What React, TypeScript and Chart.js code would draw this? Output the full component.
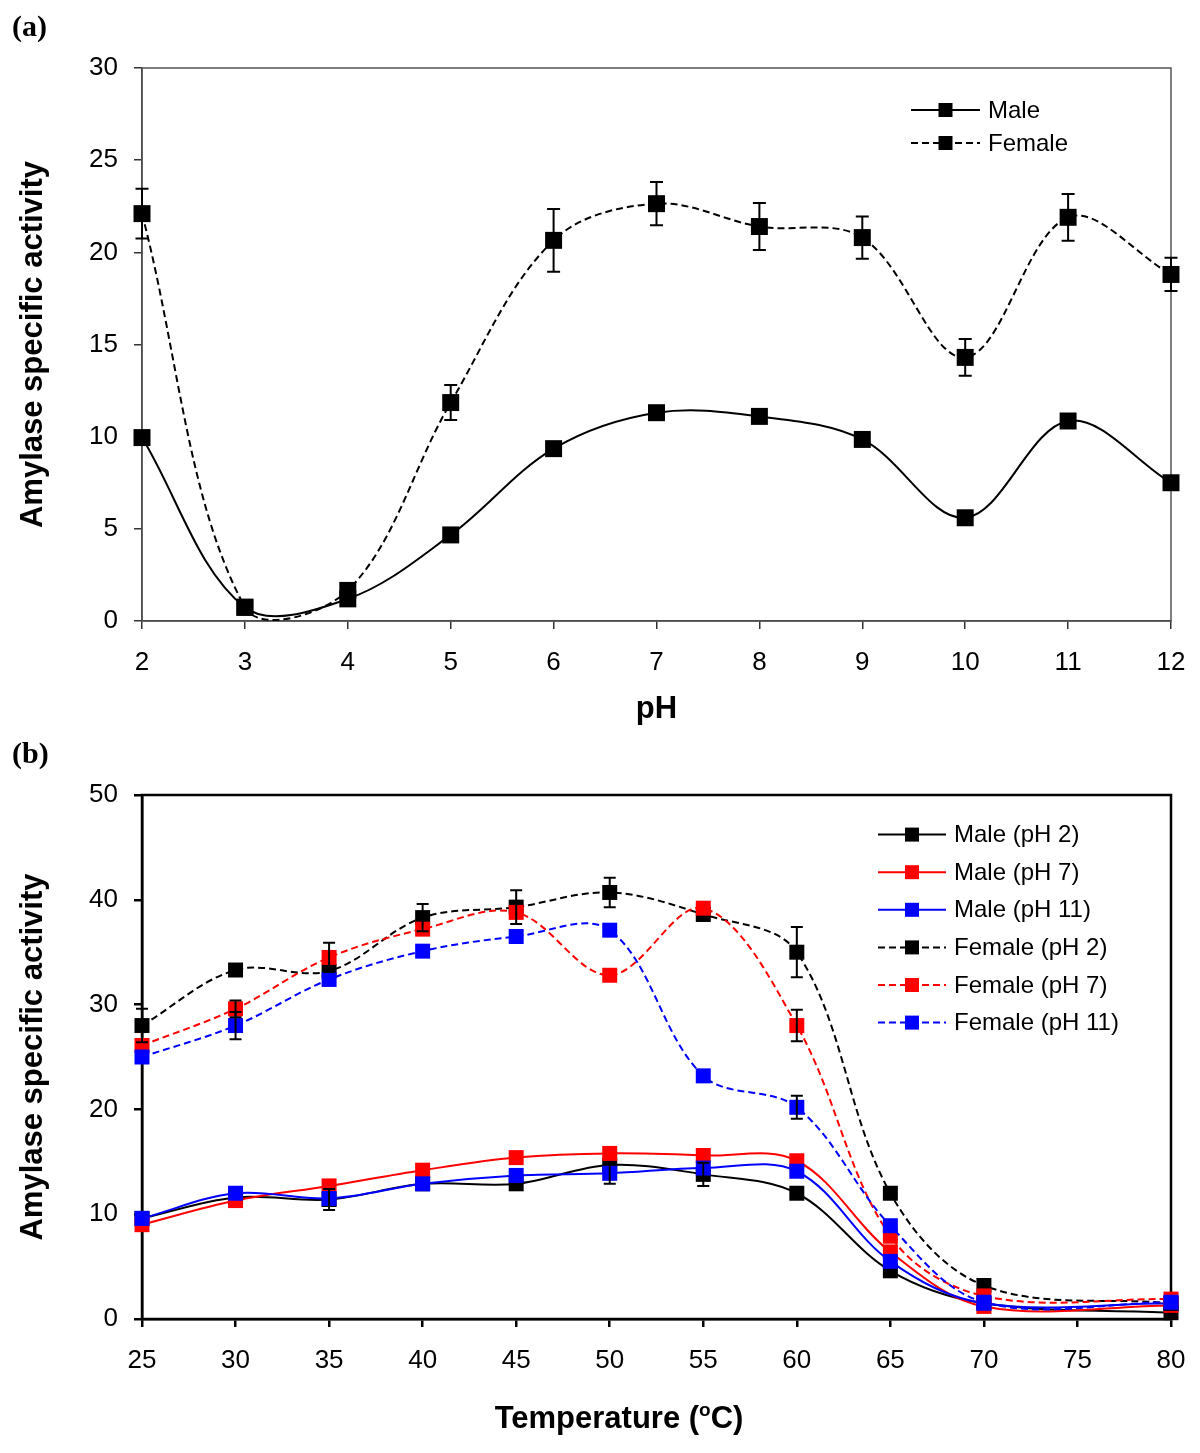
import React, { useEffect, useRef } from 'react';
import { Chart, registerables } from 'chart.js';

Chart.register(...registerables);

const FONT = "'Liberation Sans', Arial, sans-serif";
const SERIF = "'Liberation Serif', 'Times New Roman', serif";

// ---------- Panel (a): pH ----------
const phValues = [2, 3, 4, 5, 6, 7, 8, 9, 10, 11, 12];
const phMale = [9.95, 0.74, 1.2, 4.67, 9.35, 11.3, 11.1, 9.85, 5.6, 10.85, 7.5];
const phMaleErr = [0, 0, 0, 0, 0, 0, 0, 0, 0, 0, 0.3];
const phFemale = [22.1, 0.75, 1.66, 11.85, 20.65, 22.64, 21.4, 20.8, 14.3, 21.9, 18.8];
const phFemaleErr = [1.35, 0, 0, 0.95, 1.7, 1.17, 1.27, 1.15, 1.0, 1.27, 0.9];
const phTicks = { min: 2, max: 12, step: 1 };
const actTicksA = { min: 0, max: 30, step: 5 };

// ---------- Panel (b): Temperature ----------
const tempValues = [25, 30, 35, 40, 45, 50, 55, 60, 65, 70, 80];
const malePH2 = [9.6, 11.6, 11.4, 12.9, 12.9, 14.7, 13.8, 12.0, 4.6, 1.5, 0.6];
const malePH7 = [9.0, 11.3, 12.7, 14.2, 15.4, 15.8, 15.6, 15.1, 6.4, 1.2, 1.3];
const malePH11 = [9.6, 12.0, 11.5, 12.9, 13.7, 13.9, 14.4, 14.1, 5.5, 1.5, 1.5];
const femalePH2 = [28.0, 33.3, 33.2, 38.3, 39.3, 40.7, 38.6, 35.0, 12.0, 3.2, 1.5];
const femalePH7 = [26.1, 29.6, 34.5, 37.2, 38.8, 32.8, 39.2, 28.0, 7.9, 2.2, 1.9];
const femalePH11 = [25.0, 28.0, 32.4, 35.1, 36.5, 37.1, 23.2, 20.2, 8.9, 1.6, 1.6];
const malePH2Err = [0, 0, 1.0, 0, 0, 0, 1.1, 0, 0, 0, 0];
const malePH7Err = [0, 0, 0, 0, 0, 0, 0, 0, 0, 0, 0];
const malePH11Err = [0, 0, 0, 0, 0, 1.0, 0, 0, 0, 0, 0];
const femalePH2Err = [1.6, 0.4, 0, 1.3, 1.6, 1.4, 0, 2.4, 0, 0, 0];
const femalePH7Err = [0, 0.8, 1.4, 0, 0, 0, 0, 1.5, 0, 0, 0];
const femalePH11Err = [0, 1.3, 0, 0, 0, 0, 0, 1.1, 0, 0, 0];
const tempTicks = { min: 25, max: 80, step: 5 };
const actTicksB = { min: 0, max: 50, step: 10 };

const toPoints = (xs: number[], ys: number[]) => xs.map((x, i) => ({ x, y: ys[i] }));

const errorBarPlugin = {
  id: 'errorBars',
  afterDatasetsDraw(chart: any, _args: any, opts: any) {
    const { ctx, scales } = chart;
    const x = scales.x, y = scales.y;
    ctx.save();
    ctx.strokeStyle = '#000';
    ctx.lineWidth = opts.lineWidth || 2;
    ctx.setLineDash([]);
    const cap = opts.cap || 6;
    chart.data.datasets.forEach((ds: any) => {
      const errs = ds.errors;
      if (!errs) return;
      ds.data.forEach((p: any, j: number) => {
        const e = errs[j];
        if (!e) return;
        const px = x.getPixelForValue(p.x);
        const top = y.getPixelForValue(p.y + e);
        const bot = y.getPixelForValue(p.y - e);
        ctx.beginPath();
        ctx.moveTo(px, top); ctx.lineTo(px, bot);
        ctx.moveTo(px - cap, top); ctx.lineTo(px + cap, top);
        ctx.moveTo(px - cap, bot); ctx.lineTo(px + cap, bot);
        ctx.stroke();
      });
    });
    ctx.restore();
  },
};

const framePlugin = {
  id: 'frame',
  beforeDatasetsDraw(chart: any, _args: any, opts: any) {
    const { ctx, chartArea: a } = chart;
    ctx.save();
    ctx.strokeStyle = opts.color;
    ctx.lineWidth = opts.width;
    ctx.strokeRect(a.left, a.top, a.right - a.left, a.bottom - a.top);
    ctx.restore();
  },
};

const lineLegendPlugin = {
  id: 'lineLegend',
  afterDraw(chart: any, _args: any, opts: any) {
    const { ctx } = chart;
    ctx.save();
    chart.data.datasets.forEach((ds: any, i: number) => {
      const y = opts.y + i * opts.rowHeight;
      ctx.strokeStyle = ds.borderColor;
      ctx.lineWidth = ds.borderWidth;
      ctx.setLineDash(ds.borderDash || []);
      ctx.beginPath();
      ctx.moveTo(opts.x, y);
      ctx.lineTo(opts.x + opts.sampleWidth, y);
      ctx.stroke();
      ctx.setLineDash([]);
      const s = opts.marker;
      const cx = opts.x + opts.sampleWidth / 2;
      ctx.fillStyle = ds.pointBackgroundColor;
      ctx.fillRect(cx - s / 2, y - s / 2, s, s);
      ctx.fillStyle = '#000';
      ctx.font = `${opts.fontSize}px ${FONT}`;
      ctx.textBaseline = 'middle';
      ctx.textAlign = 'left';
      ctx.fillText(ds.label, opts.x + opts.sampleWidth + opts.gap, y + 1);
    });
    ctx.restore();
  },
};

const panelLabelPlugin = {
  id: 'panelLabel',
  afterDraw(chart: any, _args: any, opts: any) {
    const { ctx } = chart;
    ctx.save();
    ctx.fillStyle = '#000';
    ctx.font = `bold 30px ${SERIF}`;
    ctx.textBaseline = 'middle';
    ctx.textAlign = 'left';
    ctx.fillText(opts.text, opts.x, opts.y);
    ctx.restore();
  },
};

const supTitlePlugin = {
  id: 'supTitle',
  afterDraw(chart: any, _args: any, opts: any) {
    if (!opts || !opts.parts) return;
    const { ctx } = chart;
    ctx.save();
    ctx.fillStyle = '#000';
    ctx.textBaseline = 'alphabetic';
    ctx.textAlign = 'left';
    const main = `bold ${opts.size}px ${FONT}`;
    const sup = `bold ${opts.supSize}px ${FONT}`;
    const [a, s, b] = opts.parts;
    ctx.font = main; const wa = ctx.measureText(a).width; const wb = ctx.measureText(b).width;
    ctx.font = sup; const ws = ctx.measureText(s).width;
    let x = opts.cx - (wa + ws + wb) / 2;
    ctx.font = main; ctx.fillText(a, x, opts.baseline); x += wa;
    ctx.font = sup; ctx.fillText(s, x, opts.baseline - opts.raise); x += ws;
    ctx.font = main; ctx.fillText(b, x, opts.baseline);
    ctx.restore();
  },
};

function makeScales(opts: any) {
  return {
    x: {
      type: 'linear',
      min: opts.xt.min,
      max: opts.xt.max,
      ticks: {
        stepSize: opts.xt.step,
        font: { size: 26, family: FONT },
        color: '#000',
        padding: 18,
        maxRotation: 0,
        autoSkip: false,
      },
      grid: { display: true, drawOnChartArea: false, drawTicks: true, tickLength: 8, color: opts.axisColor, lineWidth: opts.axisWidth },
      border: { display: true, color: opts.axisColor, width: opts.axisWidth },
      title: opts.xTitle
        ? { display: true, text: opts.xTitle, color: '#000', font: { size: 31, weight: 'bold', family: FONT }, padding: { top: 0, bottom: opts.xTitlePad } }
        : { display: false },
      afterFit(scale: any) {
        scale.height = opts.xHeight;
        scale.paddingLeft = 0;
        scale.paddingRight = 0;
      },
    },
    y: {
      type: 'linear',
      min: opts.yt.min,
      max: opts.yt.max,
      ticks: {
        stepSize: opts.yt.step,
        font: { size: 26, family: FONT },
        color: '#000',
        padding: 16,
      },
      grid: { display: true, drawOnChartArea: false, drawTicks: true, tickLength: 8, color: opts.axisColor, lineWidth: opts.axisWidth },
      border: { display: true, color: opts.axisColor, width: opts.axisWidth },
      title: { display: true, text: 'Amylase specific activity', color: '#000', font: { size: 31, weight: 'bold', family: FONT }, padding: { top: 15, bottom: 0 } },
      afterFit(scale: any) {
        scale.width = 142;
        scale.paddingTop = 0;
        scale.paddingBottom = 0;
      },
    },
  };
}

function lineDs(label: string, xs: number[], ys: number[], errs: number[], color: string, dashed: boolean, r: number, order: number) {
  return {
    label,
    data: toPoints(xs, ys),
    errors: errs,
    borderColor: color,
    backgroundColor: color,
    pointBackgroundColor: color,
    pointBorderColor: color,
    pointBorderWidth: 0,
    pointStyle: 'rect',
    pointRadius: r,
    borderWidth: 2,
    borderDash: dashed ? [7, 4] : [],
    tension: 0.35,
    fill: false,
    clip: false,
    order,
  };
}

export default function App() {
  const refA = useRef<HTMLCanvasElement>(null);
  const refB = useRef<HTMLCanvasElement>(null);

  useEffect(() => {
    const chartA = new Chart(refA.current as HTMLCanvasElement, {
      type: 'line',
      data: {
        datasets: [
          lineDs('Male', phValues, phMale, phMaleErr, '#000000', false, 12, 1),
          lineDs('Female', phValues, phFemale, phFemaleErr, '#000000', true, 12, 0),
        ] as any,
      },
      options: {
        responsive: false,
        animation: false,
        layout: { padding: { left: 0, top: 68, right: 29, bottom: 0 } },
        elements: { line: { capBezierPoints: false } },
        scales: makeScales({ xt: phTicks, yt: actTicksA, axisColor: '#333', axisWidth: 1.5, xTitle: 'pH', xTitlePad: 2, xHeight: 730 - 621 }) as any,
        plugins: {
          legend: { display: false },
          tooltip: { enabled: false },
          errorBars: { lineWidth: 2, cap: 6.5 },
          frame: { color: '#555', width: 1.5 },
          lineLegend: { x: 911, y: 110, rowHeight: 33, sampleWidth: 69, marker: 14, gap: 8, fontSize: 24 },
          panelLabel: { text: '(a)', x: 12, y: 28 },
        } as any,
      },
      plugins: [framePlugin, errorBarPlugin, lineLegendPlugin, panelLabelPlugin, supTitlePlugin],
    });

    const chartB = new Chart(refB.current as HTMLCanvasElement, {
      type: 'line',
      data: {
        datasets: [
          lineDs('Male (pH 2)', tempValues, malePH2, malePH2Err, '#000000', false, 10.6, 5),
          lineDs('Male (pH 7)', tempValues, malePH7, malePH7Err, '#ff0000', false, 10.6, 4),
          lineDs('Male (pH 11)', tempValues, malePH11, malePH11Err, '#0000ff', false, 10.6, 3),
          lineDs('Female (pH 2)', tempValues, femalePH2, femalePH2Err, '#000000', true, 10.6, 2),
          lineDs('Female (pH 7)', tempValues, femalePH7, femalePH7Err, '#ff0000', true, 10.6, 1),
          lineDs('Female (pH 11)', tempValues, femalePH11, femalePH11Err, '#0000ff', true, 10.6, 0),
        ] as any,
      },
      options: {
        responsive: false,
        animation: false,
        layout: { padding: { left: 0, top: 65, right: 29, bottom: 0 } },
        elements: { line: { capBezierPoints: false } },
        scales: makeScales({ xt: tempTicks, yt: actTicksB, axisColor: '#000', axisWidth: 2.5, xTitle: null, xTitlePad: 0, xHeight: 723 - 589 }) as any,
        plugins: {
          legend: { display: false },
          tooltip: { enabled: false },
          errorBars: { lineWidth: 2, cap: 6 },
          frame: { color: '#000', width: 2.5 },
          lineLegend: { x: 878, y: 104.6, rowHeight: 37.6, sampleWidth: 68, marker: 14, gap: 8, fontSize: 24 },
          panelLabel: { text: '(b)', x: 12, y: 25 },
          supTitle: { parts: ['Temperature (', 'o', 'C)'], cx: 619, baseline: 698, size: 31, supSize: 19, raise: 12 },
        } as any,
      },
      plugins: [framePlugin, errorBarPlugin, lineLegendPlugin, panelLabelPlugin, supTitlePlugin],
    });

    return () => {
      chartA.destroy();
      chartB.destroy();
    };
  }, []);

  return (
    <div style={{ position: 'absolute', left: 0, top: 0, width: 1200, height: 1453, background: '#fff' }}>
      <canvas ref={refA} width={1200} height={730} style={{ position: 'absolute', left: 0, top: 0, width: 1200, height: 730 }} />
      <canvas ref={refB} width={1200} height={723} style={{ position: 'absolute', left: 0, top: 730, width: 1200, height: 723 }} />
    </div>
  );
}
